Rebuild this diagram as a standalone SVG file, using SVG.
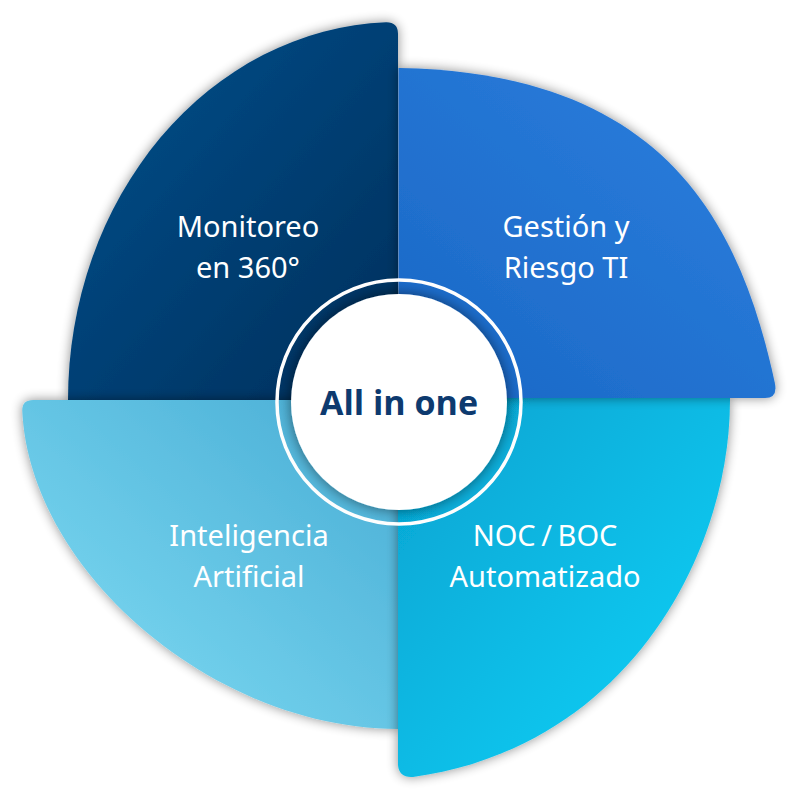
<svg xmlns="http://www.w3.org/2000/svg" width="800" height="800" viewBox="0 0 800 800">
  <defs>
    <linearGradient id="gTL" x1="0" y1="0" x2="1" y2="1">
      <stop offset="0" stop-color="#03508d"/>
      <stop offset="1" stop-color="#002f5b"/>
    </linearGradient>
    <linearGradient id="gTR" x1="1" y1="0" x2="0" y2="1">
      <stop offset="0" stop-color="#2c80df"/>
      <stop offset="1" stop-color="#1a67c5"/>
    </linearGradient>
    <linearGradient id="gBR" x1="0" y1="0" x2="1" y2="1">
      <stop offset="0" stop-color="#03a2d0"/>
      <stop offset="1" stop-color="#16d4fa"/>
    </linearGradient>
    <linearGradient id="gBL" x1="1" y1="0" x2="0" y2="1">
      <stop offset="0" stop-color="#47acd4"/>
      <stop offset="1" stop-color="#82def5"/>
    </linearGradient>
    <filter id="sh" x="-20%" y="-20%" width="140%" height="140%">
      <feGaussianBlur in="SourceAlpha" stdDeviation="6"/>
      <feComponentTransfer><feFuncA type="linear" slope="0.45"/></feComponentTransfer>
      <feMerge><feMergeNode/><feMergeNode in="SourceGraphic"/></feMerge>
    </filter>
    <filter id="shc" x="-30%" y="-30%" width="160%" height="160%">
      <feGaussianBlur in="SourceAlpha" stdDeviation="7"/>
      <feComponentTransfer><feFuncA type="linear" slope="0.5"/></feComponentTransfer>
      <feMerge><feMergeNode/><feMergeNode in="SourceGraphic"/></feMerge>
    </filter>
    <style>
      .lbl{font-family:"Noto Sans","Open Sans",sans-serif;font-size:29px;fill:#ffffff;text-anchor:middle}
      .tight{word-spacing:-2px}
      .ctr{font-family:"Open Sans","Noto Sans",sans-serif;font-size:34px;font-weight:700;fill:#0d3a6f;text-anchor:middle}
    </style>
  </defs>
  <rect width="800" height="800" fill="#ffffff"/>

  <g id="node-monitoreo">
    <path d="M398 402 L68 402 L68 400 A330 378 0 0 1 386 22.25 Q398 22 398 34 Z" fill="url(#gTL)" filter="url(#sh)"/>
    <text class="lbl" x="248" y="237">Monitoreo</text>
    <text class="lbl" x="248" y="278">en 360°</text>
  </g>

  <g id="node-inteligencia">
    <path d="M400 400 L400 729 L398 729 C213.8 729 29.6 571 22.25 410.8 Q22 400 33 400 Z" fill="url(#gBL)" filter="url(#sh)"/>
    <text class="lbl" x="249" y="546">Inteligencia</text>
    <text class="lbl" x="249" y="587">Artificial</text>
  </g>

  <g id="node-noc">
    <path d="M398 398 L730 398 L730 400 C730 556.8 624.4 748.2 413.1 776.9 Q399 778 398 765 Z" fill="url(#gBR)" filter="url(#sh)"/>
    <text class="lbl tight" x="545" y="546">NOC / BOC</text>
    <text class="lbl" x="545" y="587">Automatizado</text>
  </g>

  <g id="node-gestion">
    <path d="M398.5 398 L398.5 68 L400 68 C661.9 72.85 739.4 218.8 774.8 382.7 Q778 398 765 398 Z" fill="url(#gTR)" filter="url(#sh)"/>
    <text class="lbl" x="566" y="237">Gestión y</text>
    <text class="lbl" x="566" y="278">Riesgo TI</text>
  </g>

  <g id="connectors"></g>

  <g id="node-center">
    <circle cx="399" cy="402" r="122" fill="none" stroke="#ffffff" stroke-width="3.5"/>
    <circle cx="399" cy="402" r="108" fill="#ffffff" filter="url(#shc)"/>
    <text class="ctr" x="399" y="415">All in one</text>
  </g>
</svg>
